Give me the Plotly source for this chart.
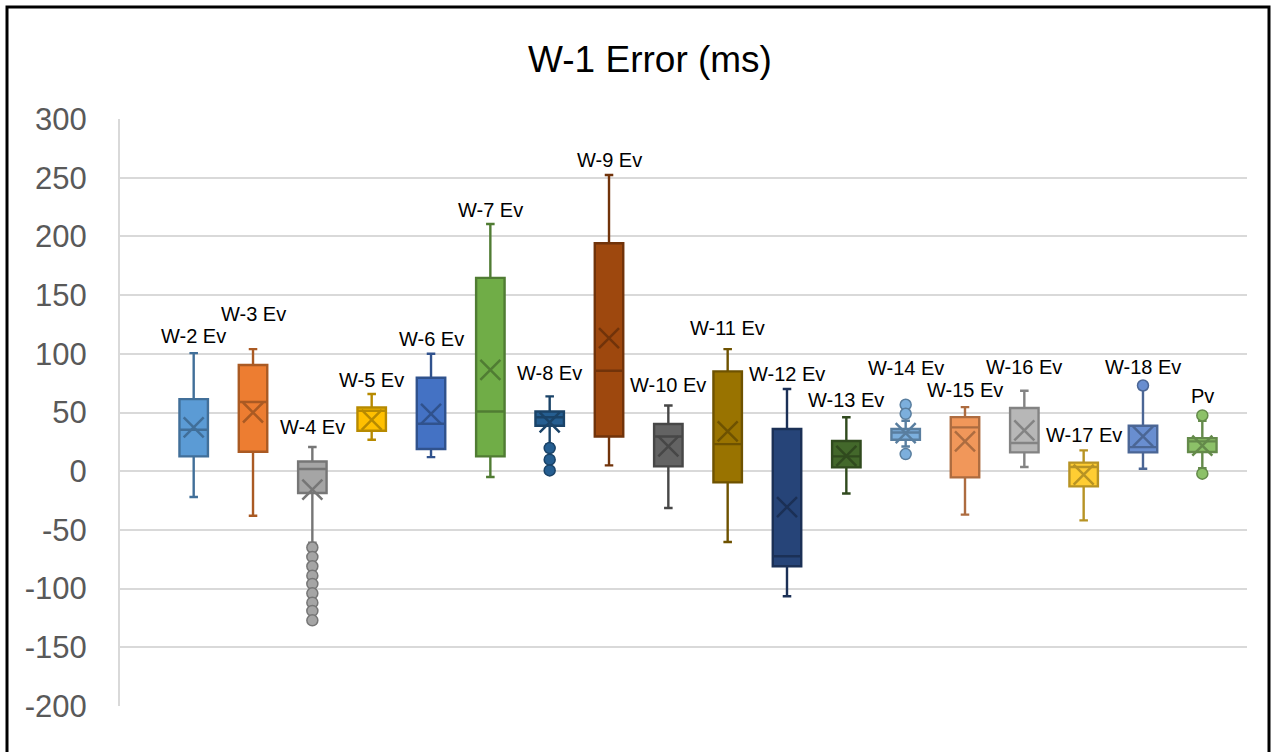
import plotly.graph_objects as go

# ---- data ----
categories = ["W-2 Ev", "W-3 Ev", "W-4 Ev", "W-5 Ev", "W-6 Ev", "W-7 Ev", "W-8 Ev", "W-9 Ev",
              "W-10 Ev", "W-11 Ev", "W-12 Ev", "W-13 Ev", "W-14 Ev", "W-15 Ev", "W-16 Ev",
              "W-17 Ev", "W-18 Ev", "Pv"]
q1 = [12.6, 16.6, -18.6, 34.5, 18.9, 12.6, 38.7, 29.6, 4.1, -9.5, -81.0, 3.3, 26.8, -5.3, 16.0, -12.9, 16.0, 16.3]
median = [35.3, 58.9, 1.9, 51.5, 40.4, 50.9, 46.0, 85.5, 29.6, 23.1, -72.5, 12.6, 33.0, 37.3, 24.0, 3.6, 20.5, 25.4]
q3 = [61.4, 90.4, 8.3, 54.3, 79.6, 164.7, 50.9, 194.2, 40.2, 85.0, 35.9, 25.7, 35.9, 46.1, 53.8, 7.3, 38.7, 28.2]
mean = [37.3, 50.0, -15.7, 43.8, 48.9, 86.4, 41.5, 113.3, 21.1, 33.9, -30.5, 13.0, 32.5, 25.4, 34.7, -3.0, 29.6, 21.7]
lowerfence = [-22.0, -38.0, -61.0, 26.8, 12.0, -5.0, 23.0, 5.0, -31.3, -60.3, -106.5, -19.0, 21.1, -37.0, 3.6, -41.9, 2.1, 2.5]
upperfence = [100.6, 104.0, 20.6, 65.7, 100.0, 210.6, 63.7, 252.3, 56.0, 104.0, 70.0, 46.0, 43.0, 54.6, 68.5, 17.7, 70.0, 43.0]
outliers = [
    [], [],
    [-65, -73, -81, -89, -96, -104, -112, -119, -127],
    [], [], [],
    [19.7, 9.8, 0.7],
    [], [], [], [], [],
    [56.6, 48.9, 14.6],
    [], [], [],
    [73.0],
    [47.5, -2.1],
]
y_ticks = [-200, -150, -100, -50, 0, 50, 100, 150, 200, 250, 300]

# ---- styles ----
fills = ["#5B9BD5", "#ED7D31", "#A5A5A5", "#FFC000", "#4472C4", "#70AD47", "#255E91", "#9E480E",
         "#636363", "#997300", "#264478", "#43682B", "#7CAFDD", "#F1975A", "#B7B7B7", "#FFCD33",
         "#698ED0", "#8CC168"]


def darker(hex_color, f=0.72):
    h = hex_color.lstrip("#")
    r, g, b = (int(h[i:i + 2], 16) for i in (0, 2, 4))
    return "#%02X%02X%02X" % (int(r * f), int(g * f), int(b * f))


label_shift = [17, 35, 20, 14, 15, 14, 23, 15, 20, 21, 15, 17, 37, 17, 24, 15, 19, 19]
FONT = "Arial, Liberation Sans, sans-serif"

fig = go.Figure()
positions = list(range(len(categories)))

for i, name in enumerate(categories):
    lc = darker(fills[i])
    fig.add_trace(go.Box(
        x=[positions[i]], q1=[q1[i]], median=[median[i]], q3=[q3[i]],
        lowerfence=[lowerfence[i]], upperfence=[upperfence[i]],
        name=name, width=0.48, whiskerwidth=0.3,
        fillcolor=fills[i], line=dict(color=lc, width=2.4),
        boxpoints=False, showlegend=False, hoverinfo="skip",
    ))

for i, name in enumerate(categories):
    lc = darker(fills[i])
    if outliers[i]:
        fig.add_trace(go.Scatter(
            x=[positions[i]] * len(outliers[i]), y=outliers[i], mode="markers",
            marker=dict(symbol="circle", size=11, color=fills[i], line=dict(color=lc, width=1.5)),
            showlegend=False, hoverinfo="skip",
        ))
    fig.add_trace(go.Scatter(
        x=[positions[i]], y=[mean[i]], mode="markers",
        marker=dict(symbol="x-thin", size=20, line=dict(color=lc, width=2.5)),
        showlegend=False, hoverinfo="skip",
    ))

annotations = []
for i, name in enumerate(categories):
    top = max([upperfence[i]] + outliers[i])
    annotations.append(dict(
        x=positions[i], y=top, xref="x", yref="y", text=name, showarrow=False,
        yshift=label_shift[i], yanchor="middle", xanchor="center",
        font=dict(family=FONT, size=20, color="#000000"),
    ))

L, R, T, B = 120, 24, 119, 45.5
W, H = 1271, 752
pw, ph = W - L - R, H - T - B

fig.update_layout(
    width=W, height=H,
    margin=dict(l=L, r=R, t=T, b=B),
    paper_bgcolor="white", plot_bgcolor="white",
    boxmode="overlay",
    title=dict(text="W-1 Error (ms)", x=650 / W, xref="container", xanchor="center",
               y=1 - 59 / H, yref="container", yanchor="middle",
               font=dict(family=FONT, size=37, color="#000000")),
    xaxis=dict(range=[-1.242, 17.753], showgrid=False, zeroline=False, showticklabels=False,
               ticks="", showline=False, fixedrange=True),
    yaxis=dict(range=[-200, 300], tickvals=y_ticks, ticktext=[str(v) for v in y_ticks],
               showgrid=True, gridcolor="#D9D9D9", gridwidth=2, zeroline=False,
               showline=True, linecolor="#D9D9D9", linewidth=2,
               ticks="", ticklabelstandoff=25,
               tickfont=dict(family=FONT, size=31, color="#595959")),
    annotations=annotations,
    shapes=[dict(type="rect", xref="paper", yref="paper",
                 x0=(7 - L) / pw, x1=(1269 - L) / pw,
                 y0=(H - B - 800) / ph, y1=(H - B - 7) / ph,
                 line=dict(color="#000000", width=3), fillcolor="rgba(0,0,0,0)", layer="above")],
)

fig.write_html("out.html")
